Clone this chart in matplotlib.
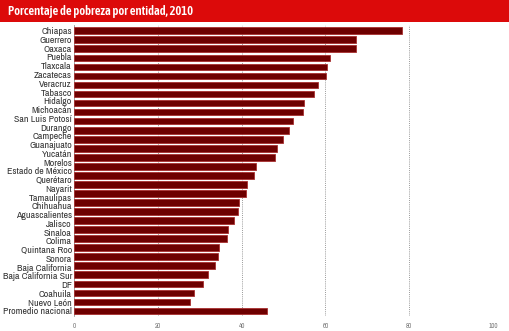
import numpy as np
import matplotlib
matplotlib.use("Agg")
import matplotlib.pyplot as plt
from matplotlib.patches import Rectangle

# values as drawn (32 bars), labels as printed (33 names)
labels = ["Chiapas", "Guerrero", "Oaxaca", "Puebla", "Tlaxcala", "Zacatecas",
          "Veracruz", "Tabasco", "Hidalgo", "Michoacán", "San Luis Potosí",
          "Durango", "Campeche", "Guanajuato", "Yucatán", "Morelos",
          "Estado de México", "Querétaro", "Nayarit", "Tamaulipas", "Chihuahua",
          "Aguascalientes", "Jalisco", "Sinaloa", "Colima", "Quintana Roo",
          "Sonora", "Baja California", "Baja California Sur", "DF", "Coahuila",
          "Nuevo León", "Promedio nacional"]
values = [78.4, 67.4, 67.2, 61.0, 60.4, 60.2, 58.3, 57.2, 54.8, 54.7, 52.3,
          51.2, 49.9, 48.4, 47.9, 43.4, 42.9, 41.3, 41.1, 39.4, 39.1, 38.1,
          36.8, 36.4, 34.6, 34.4, 33.7, 32.1, 30.8, 28.6, 27.8, 46.1]
xticks = [0, 20, 40, 60, 80, 100]
title = "Porcentaje de pobreza por entidad, 2010"

plt.rcParams['font.family'] = ['Archivo Narrow', 'DejaVu Sans']

W, H = 509, 331
fig = plt.figure(figsize=(W / 100, H / 100), dpi=100)
fig.patch.set_facecolor("white")

# red header band
fig.patches.append(Rectangle((0, 1 - 22 / H), 1, 22 / H, transform=fig.transFigure,
                             facecolor="#dc0a0a", edgecolor="none", zorder=0))
fig.text(8 / W, 1 - 11.5 / H, title, color="white", fontsize=9, fontweight="semibold",
         family=['Asap Condensed', 'Archivo Narrow', 'DejaVu Sans'],
         va="center", ha="left")

ax = fig.add_axes([74 / W, 1 - 316.4 / H, (493 - 74) / W, (316.4 - 25.3) / H])
ypos = np.arange(len(values))
ax.barh(ypos, values, height=0.74, color="#6e0000", edgecolor="#a83030",
        linewidth=0.6, zorder=3)
ax.set_xlim(0, 100)
ax.set_ylim(len(values) - 0.4, -0.6)

ax.set_xticks(xticks)
ax.set_xticklabels([str(t) for t in xticks], fontsize=5, color="#777777")
ax.tick_params(axis="x", length=0, pad=5)
ax.xaxis.grid(True, color="#999999", linestyle=(0, (1, 1.2)), linewidth=0.7, zorder=0)
ax.set_axisbelow(True)

# the printed names are spread evenly over the same span as the bars
ax.set_yticks(np.linspace(0, len(values) - 1, len(labels)))
ax.set_yticklabels(labels, fontsize=7.1, color="#333333")
ax.tick_params(axis="y", length=0, pad=1.5)

for s in ["top", "right", "bottom"]:
    ax.spines[s].set_visible(False)
ax.spines["left"].set_color("#999999")
ax.spines["left"].set_linewidth(0.6)

plt.savefig("out.png", dpi=100)
